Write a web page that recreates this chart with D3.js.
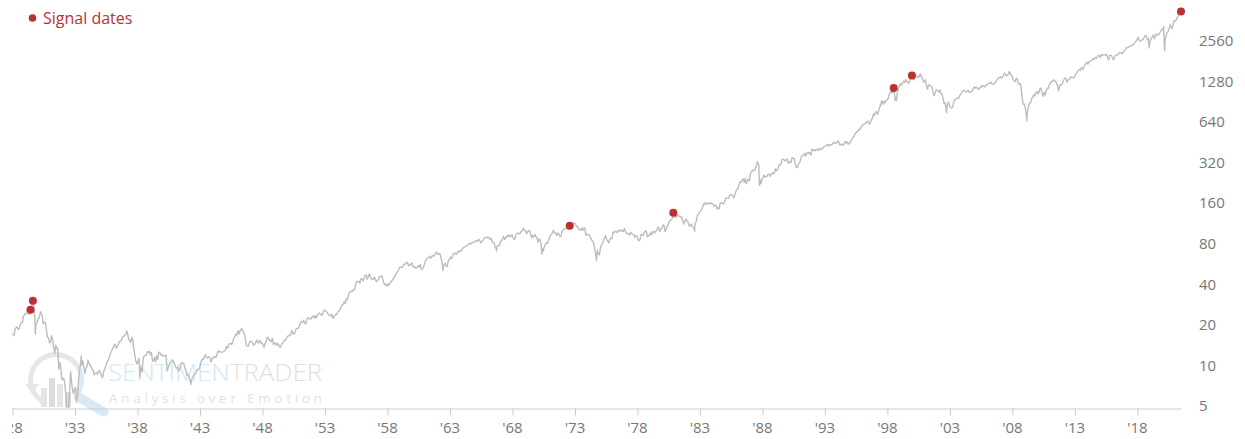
<!DOCTYPE html>
<html>
<head>
<meta charset="utf-8">
<script src="https://cdn.jsdelivr.net/npm/d3@7"></script>
<style>
  html, body { margin: 0; padding: 0; background: #fff; }
  svg { display: block; font-family: "Open Sans", "Noto Sans", sans-serif; }
</style>
</head>
<body>
<svg id="chart" width="1245" height="439"></svg>
<script>
// S&P 500 month-end closes, one array per decade, starting January 1928
const spx1920s = [
  17.57,17.26,19.28,19.75,20.00,19.14,19.43,20.87,21.40,21.53,24.18,24.35,
  25.40,25.20,25.10,25.40,24.80,27.30,28.70,30.60,28.90,22.90,20.60,21.45];
const spx1930s = [
  22.8,23.1,24.9,25.5,24.4,21.0,21.7,21.5,19.4,16.8,16.6,15.3,
  15.3,17.2,16.3,14.4,12.7,14.6,13.8,13.9,9.7,10.9,9.9,8.1,
  8.3,8.2,7.3,5.8,4.5,4.4,6.1,8.4,8.1,6.9,6.4,6.9,
  7.1,5.7,6.0,8.3,9.6,10.9,10.4,11.2,10.0,9.0,9.9,10.1,
  11.3,10.7,10.5,10.1,9.6,9.5,8.8,9.1,9.1,8.9,9.4,9.5,
  9.1,8.7,8.4,9.3,9.7,10.2,10.9,11.2,11.6,12.3,12.9,13.4,
  14.0,14.6,14.9,13.9,14.4,14.7,15.6,15.6,15.9,16.8,17.1,17.2,
  17.5,18.1,17.9,16.2,15.9,15.3,16.8,16.0,13.8,12.3,11.1,10.6,
  11.0,11.7,8.5,10.0,9.3,11.6,12.2,12.3,12.3,13.1,12.9,13.2,
  12.4,12.9,11.1,11.2,11.9,11.0,12.2,11.5,13.0,12.9,12.4,12.5];
const spx1940s = [
  12.1,12.2,12.2,12.3,9.4,9.9,10.5,10.9,11.0,11.4,11.0,10.6,
  10.1,9.9,10.0,9.4,9.6,10.3,10.9,10.7,10.7,9.9,9.5,8.7,
  8.9,8.6,8.0,7.7,8.3,8.6,8.9,8.9,9.3,9.7,9.6,9.8,
  10.7,11.2,11.6,11.5,12.2,12.4,11.8,11.8,12.0,11.9,11.0,11.5,
  11.9,11.8,12.1,11.9,12.6,13.3,13.0,13.1,13.0,13.0,13.1,13.3,
  13.5,14.3,13.9,14.7,15.0,15.1,14.8,15.6,16.4,17.0,17.7,17.4,
  18.7,17.7,18.7,19.3,19.3,18.4,17.8,16.5,14.7,14.4,14.4,15.3,
  15.7,15.4,15.2,14.6,14.8,15.3,16.0,15.4,15.2,15.9,15.2,15.3,
  14.7,14.1,15.1,15.5,16.7,16.7,15.9,15.9,15.5,16.5,14.8,15.2,
  15.2,14.6,15.1,14.7,14.2,14.2,15.0,15.2,15.6,16.0,16.0,16.8];
const spx1950s = [
  17.1,17.2,17.3,18.0,18.8,17.7,17.8,18.4,19.5,19.5,19.5,20.4,
  21.7,21.8,21.5,22.4,21.5,21.0,22.4,23.3,23.3,22.9,22.9,23.8,
  24.1,23.3,24.4,23.3,24.0,24.9,25.4,25.0,24.5,24.5,26.0,26.6,
  26.4,25.9,25.3,24.6,24.5,24.1,24.8,23.3,23.4,24.5,24.8,24.8,
  26.1,26.2,26.9,28.3,29.2,29.2,30.9,29.8,32.3,31.7,34.2,36.0,
  36.6,36.8,36.6,38.0,37.9,41.0,43.5,43.2,43.7,42.3,45.5,45.5,
  43.8,45.3,48.5,48.4,45.2,47.0,49.4,47.5,45.4,45.6,45.1,46.7,
  44.7,43.3,44.1,45.7,47.4,47.4,47.9,45.2,42.4,41.1,41.7,40.0,
  41.7,40.8,42.1,43.4,44.1,45.2,47.2,48.0,50.1,51.3,52.5,55.2,
  55.4,55.4,55.4,57.6,58.7,58.5,60.5,59.6,56.9,57.5,58.3,59.9];
const spx1960s = [
  55.6,56.1,55.3,54.4,55.8,56.9,55.5,58.1,53.5,53.4,55.5,58.1,
  61.8,63.4,65.1,65.3,66.6,64.6,66.8,68.1,66.7,68.6,71.3,71.6,
  68.8,70.0,69.6,65.2,59.6,54.8,58.2,59.1,56.3,56.5,62.3,63.1,
  66.2,64.3,66.6,69.8,70.8,69.4,69.1,72.5,71.7,74.0,73.2,75.0,
  77.0,77.8,79.0,79.5,80.4,81.7,83.2,81.8,84.2,84.9,84.4,84.8,
  87.6,87.4,86.2,89.1,88.4,84.1,85.3,87.2,90.0,92.4,91.6,92.4,
  92.9,91.2,89.2,91.1,86.1,84.7,83.6,77.1,76.6,80.2,80.5,80.3,
  86.6,86.8,90.2,94.0,89.1,90.6,94.8,93.6,96.7,93.3,94.0,96.5,
  92.2,89.4,90.2,97.6,98.7,99.6,97.7,98.9,102.7,103.4,108.4,103.9,
  103.0,98.1,101.5,103.7,103.5,97.7,91.8,95.5,93.1,97.2,93.8,92.1];
const spx1970s = [
  85.0,89.5,89.6,81.5,76.6,72.7,78.1,81.5,84.3,83.3,87.2,92.2,
  95.9,96.8,100.3,104.0,99.6,99.7,95.6,99.0,98.3,94.2,94.0,102.1,
  103.9,106.6,107.2,107.7,109.5,107.1,107.4,111.1,110.6,111.6,116.7,118.1,
  116.0,111.7,111.5,107.0,105.0,104.3,108.2,104.3,108.4,108.3,96.0,97.6,
  96.6,96.2,94.0,90.3,87.3,86.0,79.3,72.2,63.5,73.9,70.0,68.6,
  77.0,81.6,83.4,87.3,91.2,95.2,88.8,86.9,83.9,89.0,91.2,90.2,
  100.9,99.7,102.8,101.6,100.2,104.3,103.4,102.9,105.2,102.9,102.1,107.5,
  102.0,99.8,98.4,98.4,96.1,100.5,98.9,96.8,96.5,92.3,94.8,95.1,
  89.3,87.0,89.2,97.0,97.2,95.5,100.7,103.3,102.5,93.2,94.7,96.1,
  99.9,96.3,101.6,101.8,99.1,102.9,103.8,109.3,109.3,101.8,106.2,107.9];
const spx1980s = [
  114.2,113.7,102.1,106.3,111.2,114.2,121.7,122.4,125.5,127.5,140.5,135.8,
  129.6,131.3,136.0,132.8,133.0,131.2,130.9,122.8,116.2,121.9,126.4,122.6,
  120.4,113.1,112.0,116.4,111.9,109.6,107.1,119.5,120.4,133.7,138.5,140.6,
  145.3,148.1,153.0,164.4,162.4,168.1,162.6,164.4,166.1,163.6,166.4,164.9,
  163.4,157.1,159.2,160.1,150.6,153.2,150.7,166.7,166.1,166.1,163.6,167.2,
  179.6,181.2,180.7,179.8,189.6,191.9,190.9,188.6,182.1,189.8,202.2,211.3,
  211.8,226.9,238.9,235.5,247.4,250.8,236.1,252.9,231.3,244.0,249.2,242.2,
  274.1,284.2,291.7,288.4,290.1,304.0,318.7,329.8,321.8,251.8,230.3,247.1,
  257.1,267.8,258.9,261.3,262.2,273.5,272.0,261.5,271.9,279.0,273.7,277.7,
  297.5,288.9,294.9,309.6,320.5,318.0,346.1,351.5,349.2,340.4,346.0,353.4];
const spx1990s = [
  329.1,331.9,339.9,330.8,361.2,358.0,356.2,322.6,306.1,304.0,322.2,330.2,
  343.9,367.1,375.2,375.3,389.8,371.2,387.8,395.4,387.9,392.5,375.2,417.1,
  408.8,412.7,403.7,415.0,415.4,408.1,424.2,414.0,417.8,418.7,431.4,435.7,
  438.8,443.4,451.7,440.2,450.2,450.5,448.1,463.6,458.9,467.8,461.8,466.5,
  481.6,467.1,445.8,450.9,456.5,444.3,458.3,475.5,462.7,472.4,453.7,459.3,
  470.4,487.4,500.7,514.7,533.4,544.8,562.1,561.9,584.4,581.5,605.4,615.9,
  636.0,640.4,645.5,654.2,669.1,670.6,640.0,652.0,687.3,705.3,757.0,740.7,
  786.2,790.8,757.1,801.3,848.3,885.1,954.3,899.5,947.3,914.6,955.4,970.4,
  980.3,1049.3,1101.8,1111.8,1090.8,1133.8,1120.7,957.3,1017.0,1098.7,1163.6,1229.2,
  1279.6,1238.3,1286.4,1335.2,1301.8,1372.7,1328.7,1320.4,1282.7,1362.9,1388.9,1469.3];
const spx2000s = [
  1394.5,1366.4,1498.6,1452.4,1420.6,1454.6,1430.8,1517.7,1436.5,1429.4,1315.2,1320.3,
  1366.0,1239.9,1160.3,1249.5,1255.8,1224.4,1211.2,1133.6,1040.9,1059.8,1139.5,1148.1,
  1130.2,1106.7,1147.4,1076.9,1067.1,989.8,911.6,916.1,815.3,885.8,936.3,879.8,
  855.7,841.2,848.2,916.9,963.6,974.5,990.3,1008.0,996.0,1050.7,1058.2,1111.9,
  1131.1,1144.9,1126.2,1107.3,1120.7,1140.8,1101.7,1104.2,1114.6,1130.2,1173.8,1211.9,
  1181.3,1203.6,1180.6,1156.9,1191.5,1191.3,1234.2,1220.3,1228.8,1207.0,1249.5,1248.3,
  1280.1,1280.7,1294.8,1310.6,1270.1,1270.2,1276.7,1303.8,1335.9,1377.9,1400.6,1418.3,
  1438.2,1406.8,1420.9,1482.4,1530.6,1503.4,1455.3,1474.0,1526.8,1549.4,1481.1,1468.4,
  1378.6,1330.6,1322.7,1385.6,1400.4,1280.0,1267.4,1282.8,1166.4,968.8,896.2,903.3,
  825.9,735.1,797.9,872.8,919.1,919.3,987.5,1020.6,1057.1,1036.2,1095.6,1115.1];
const spx2010s = [
  1073.9,1104.5,1169.4,1186.7,1089.4,1030.7,1101.6,1049.3,1141.2,1183.3,1180.6,1257.6,
  1286.1,1327.2,1325.8,1363.6,1345.2,1320.6,1292.3,1218.9,1131.4,1253.3,1247.0,1257.6,
  1312.4,1365.7,1408.5,1397.9,1310.3,1362.2,1379.3,1406.6,1440.7,1412.2,1416.2,1426.2,
  1498.1,1514.7,1569.2,1597.6,1630.7,1606.3,1685.7,1633.0,1681.6,1756.5,1805.8,1848.4,
  1782.6,1859.5,1872.3,1884.0,1923.6,1960.2,1930.7,2003.4,1972.3,2018.1,2067.6,2058.9,
  1995.0,2104.5,2067.9,2085.5,2107.4,2063.1,2103.8,1972.2,1920.0,2079.4,2080.4,2043.9,
  1940.2,1932.2,2059.7,2065.3,2097.0,2098.9,2173.6,2171.0,2168.3,2126.2,2198.8,2238.8,
  2278.9,2363.6,2362.7,2384.2,2411.8,2423.4,2470.3,2471.7,2519.4,2575.3,2647.6,2673.6,
  2823.8,2713.8,2640.9,2648.1,2705.3,2718.4,2816.3,2901.5,2914.0,2711.7,2760.2,2506.9,
  2704.1,2784.5,2834.4,2945.8,2752.1,2941.8,2980.4,2926.5,2976.7,3037.6,3141.0,3230.8];
const spx2020s = [
  3225.5,2954.2,2584.6,2912.4,3044.3,3100.3,3271.1,3500.3,3363.0,3270.0,3621.6,3756.1,
  3714.2,3811.2,3972.9,4181.2,4204.1,4297.5];

// Intramonth highs and lows that the month-end closes miss
const turnDates  = ['1928-01-03','1929-09-16','1929-11-13','1930-04-10','1932-06-01','1932-09-07',
                    '1933-02-27','1933-07-18','1937-03-06','1942-04-28','1946-05-29','1962-06-26',
                    '1966-10-07','1970-05-26','1972-08-14','1974-10-03','1982-08-12','1987-08-25',
                    '1987-10-19','1998-07-17','1998-10-08','2000-03-24','2002-10-09','2007-10-09',
                    '2009-03-09','2018-12-24','2020-02-19','2020-03-23','2021-07-12'];
const turnValues = [17.76,31.86,17.66,25.92,4.40,9.31,
                    5.53,12.20,18.68,7.47,19.25,52.32,
                    73.20,69.29,112.55,62.28,102.42,336.77,
                    224.84,1186.75,959.44,1527.46,776.76,1565.15,
                    676.53,2351.10,3386.15,2237.40,4384.63];

// Signal dates
const signalDates  = ['1929-06-24','1929-09-03','1972-08-14','1980-11-28','1998-07-17','1999-12-31','2021-07-12'];
const signalValues = [26.8, 31.3, 112.55, 140.5, 1186.75, 1469.3, 4384.63];

// Axis ticks
const xTickYears  = [1928,1933,1938,1943,1948,1953,1958,1963,1968,1973,1978,1983,1988,1993,1998,2003,2008,2013,2018];
const yTickValues = [5,10,20,40,80,160,320,640,1280,2560];

const parse = d3.utcParse('%Y-%m-%d');
const monthly = [].concat(spx1920s, spx1930s, spx1940s, spx1950s, spx1960s,
                          spx1970s, spx1980s, spx1990s, spx2000s, spx2010s, spx2020s)
  .map((v, i) => ({ date: new Date(Date.UTC(1928, i + 1, 0)), value: v }));
const turns = turnDates.map((d, i) => ({ date: parse(d), value: turnValues[i] }));
const series = monthly.concat(turns).sort((a, b) => a.date - b.date);
const signals = signalDates.map((d, i) => ({ date: parse(d), value: signalValues[i] }));

const svg = d3.select('#chart');
const W = 1245, H = 439;
const plot = { left: 12, right: 1181, top: 0, bottom: 408 };

const x = d3.scaleUtc()
  .domain([Date.UTC(1928, 0, 1), parse('2021-07-12')])
  .range([plot.left, plot.right]);
const y = d3.scaleLog().base(2)
  .domain([5, 2560])
  .range([plot.bottom, plot.bottom - 365]);

const RED = '#b83232';

// Watermark logo and wordmark
const wm = svg.append('g').attr('class', 'watermark');
wm.append('path')
  .attr('d', d3.arc()({ innerRadius: 23, outerRadius: 28, startAngle: -2.6, endAngle: 0.9 }))
  .attr('transform', 'translate(56,380)')
  .attr('fill', '#e6e6e6');
wm.append('path')
  .attr('d', 'M25,384 L39,384 L32,394 Z')
  .attr('fill', '#e6e6e6');
wm.append('path')
  .attr('d', d3.arc()({ innerRadius: 23, outerRadius: 28, startAngle: 0.9, endAngle: 2.2 }))
  .attr('transform', 'translate(56,380)')
  .attr('fill', '#dceaf5');
const bars = [[41, 388], [49, 378], [57, 384], [65, 392]];
wm.selectAll('rect.wmbar').data(bars).join('rect')
  .attr('class', 'wmbar')
  .attr('x', d => d[0]).attr('y', d => d[1])
  .attr('width', 6).attr('height', d => 407 - d[1])
  .attr('fill', (d, i) => i % 2 ? '#dcdcdc' : '#e4e4e4');
wm.append('line')
  .attr('x1', 78).attr('y1', 397).attr('x2', 104).attr('y2', 412)
  .attr('stroke', '#d8e8f5').attr('stroke-width', 9).attr('stroke-linecap', 'round');
const brand = wm.append('text')
  .attr('x', 108).attr('y', 381)
  .attr('font-size', 23).attr('font-weight', 300)
  .attr('textLength', 214).attr('lengthAdjust', 'spacingAndGlyphs');
brand.append('tspan').attr('fill', '#d3e6f3').text('SENTIMEN');
brand.append('tspan').attr('fill', '#dfdfdf').text('TRADER');
wm.append('text')
  .attr('x', 109).attr('y', 403)
  .attr('font-size', 13.5)
  .attr('fill', '#e3e3e3')
  .attr('textLength', 213).attr('lengthAdjust', 'spacing')
  .text('Analysis over Emotion');

// Price line, clipped to the plot area
svg.append('clipPath').attr('id', 'plot-clip')
  .append('rect')
  .attr('x', plot.left).attr('y', plot.top)
  .attr('width', plot.right - plot.left + 1).attr('height', plot.bottom - plot.top);

const line = d3.line()
  .x(d => x(d.date))
  .y(d => y(d.value));

svg.append('path')
  .datum(series)
  .attr('clip-path', 'url(#plot-clip)')
  .attr('fill', 'none')
  .attr('stroke', '#bdbdbd')
  .attr('stroke-width', 1.4)
  .attr('stroke-linejoin', 'round')
  .attr('d', line);

// Bottom axis; its group is clipped at the chart's left edge
svg.append('clipPath').attr('id', 'xaxis-clip')
  .append('rect').attr('x', 12).attr('y', -5).attr('width', W).attr('height', 40);

const xAxis = svg.append('g')
  .attr('transform', `translate(0,${plot.bottom + 0.5})`)
  .attr('clip-path', 'url(#xaxis-clip)')
  .call(d3.axisBottom(x)
    .tickValues(xTickYears.map(yr => new Date(Date.UTC(yr, 0, 1))))
    .tickFormat(d => "'" + String(d.getUTCFullYear()).slice(2))
    .tickSizeInner(7)
    .tickSizeOuter(0)
    .tickPadding(7));
xAxis.select('.domain').attr('stroke', '#cccccc');
xAxis.selectAll('.tick line').attr('stroke', '#cccccc').attr('transform', 'translate(0.5,0)');
xAxis.selectAll('.tick text')
  .attr('fill', '#777')
  .attr('font-size', 15)
  .attr('font-family', '"Open Sans", "Noto Sans", sans-serif');

// Right-hand log axis labels
svg.append('g')
  .selectAll('text')
  .data(yTickValues)
  .join('text')
  .attr('x', 1199)
  .attr('y', d => y(d) - 2)
  .attr('dy', '0.35em')
  .attr('fill', '#777')
  .attr('font-size', 15)
  .text(d => d);

// Signal markers
svg.append('g')
  .selectAll('circle')
  .data(signals)
  .join('circle')
  .attr('cx', d => x(d.date))
  .attr('cy', d => y(d.value))
  .attr('r', 4)
  .attr('fill', RED);

// Legend
const legend = svg.append('g');
legend.append('circle').attr('cx', 32.5).attr('cy', 18).attr('r', 3.8).attr('fill', RED);
legend.append('text')
  .attr('x', 43).attr('y', 23.5)
  .attr('fill', RED)
  .attr('font-size', 16)
  .text('Signal dates');
</script>
</body>
</html>
